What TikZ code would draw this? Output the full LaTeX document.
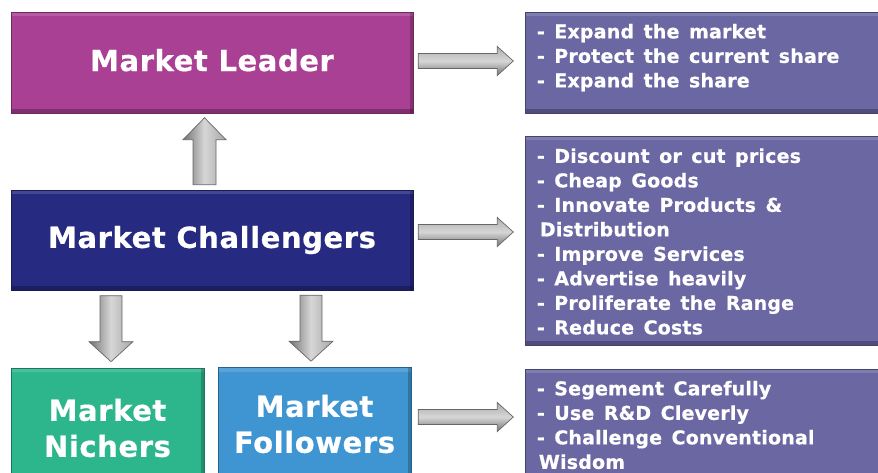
\documentclass[tikz,border=0pt]{standalone}
\usepackage{fontspec}
\setmainfont{DejaVu Sans}
\newfontfamily\titlefont[LetterSpace=2, BoldFeatures={FakeBold=0.6}]{DejaVu Sans}
\newfontfamily\listfont[LetterSpace=1, WordSpace=1.4, BoldFeatures={FakeBold=0.6}]{DejaVu Sans}
\usetikzlibrary{calc}
\definecolor{leadc}{RGB}{169,64,148}
\definecolor{challc}{RGB}{38,42,128}
\definecolor{nichc}{RGB}{45,182,140}
\definecolor{follc}{RGB}{62,149,210}
\definecolor{listc}{RGB}{106,103,163}
\tikzset{
  bevelbox/.style={rectangle, fill=#1, draw=#1!65!black, line width=0.6pt, inner sep=0pt,
    path picture={
      \fill[white,opacity=.14] (path picture bounding box.north west) rectangle ([yshift=-4pt]path picture bounding box.north east);
      \fill[black,opacity=.25] (path picture bounding box.south west) rectangle ([yshift=4pt]path picture bounding box.south east);
      \fill[black,opacity=.22] (path picture bounding box.south east) rectangle ([xshift=-3pt]path picture bounding box.north east);
    }},
  titlebox/.style={bevelbox=#1, text=white, align=center, font=\titlefont\bfseries\fontsize{29}{36}\selectfont},
  listtext/.style={text=white, align=left, inner sep=0pt, anchor=north west, font=\listfont\bfseries\fontsize{19}{24.5}\selectfont},
  hgarrow/.style={draw=black!60, line width=0.7pt, top color=black!32, bottom color=black!55, middle color=black!16},
  vgarrow/.style={draw=black!60, line width=0.7pt, left color=black!55, right color=black!35, middle color=black!16},
}
\begin{document}
\begin{tikzpicture}[x=1pt,y=-1pt]
\useasboundingbox (0,0) rectangle (878,473);
\clip (0,0) rectangle (878,473);

% left boxes
\node[titlebox=leadc, minimum width=402pt, minimum height=101pt] (leader) at (212,62.5) {\raisebox{5pt}{Market Leader}};
\node[titlebox=challc, minimum width=402pt, minimum height=100pt] (chall) at (212,240) {Market Challengers};
\node[titlebox=nichc, minimum width=193pt, minimum height=120pt] (nich) at (107.5,428) {Market\\Nichers};
\node[titlebox=follc, minimum width=193pt, minimum height=113pt] (foll) at (314.5,424) {Market\\Followers};

% right boxes
\node[bevelbox=listc, minimum width=360pt, minimum height=101pt] (r1) at (705,62.5) {};
\node[bevelbox=listc, minimum width=360pt, minimum height=209pt] (r2) at (705,240.5) {};
\node[bevelbox=listc, minimum width=360pt, minimum height=111pt] (r3) at (705,424.5) {};

\node[listtext] (t1) at ([xshift=12pt,yshift=-12pt]r1.north west)
  {- Expand the market\\- Protect the current share\\- Expand the share};
\node[listtext] (t2) at ([xshift=12pt,yshift=-12.5pt]r2.north west)
  {- Discount or cut prices\\- Cheap Goods\\- Innovate Products \&\\\hspace*{3pt}Distribution\\- Improve Services\\- Advertise heavily\\- Proliferate the Range\\- Reduce Costs};
\node[listtext] (t3) at ([xshift=12pt,yshift=-12pt]r3.north west)
  {- Segement Carefully\\- Use R\&D Cleverly\\- Challenge Conventional\\\hspace*{2pt}Wisdom};

% connectors (block arrows)
\coordinate (a1) at ([xshift=5pt,yshift=1.5pt]leader.east);
\coordinate (a2) at ([xshift=5pt,yshift=8pt]chall.east);
\coordinate (a3) at ([xshift=7pt,yshift=7pt]foll.east);
\foreach \s in {a1,a2,a3}{
  \draw[hgarrow] (\s) ++(0,-7.5) -- ++(79,0) -- ++(0,-7) -- ++(16,14.5) -- ++(-16,14.5) -- ++(0,-7) -- ++(-79,0) -- cycle;
}
\coordinate (u1) at ([xshift=-7.5pt,yshift=5pt]chall.north);
\draw[vgarrow] (u1) ++(-11.5,0) -- ++(0,-45) -- ++(-10,0) -- ++(21.5,-22) -- ++(21.5,22) -- ++(-10,0) -- ++(0,45) -- cycle;
\coordinate (d1) at ([xshift=3.5pt,yshift=72pt]nich.north);
\coordinate (d2) at ([xshift=-3.5pt,yshift=72pt]foll.north);
\foreach \s in {d1,d2}{
  \draw[vgarrow] (\s) ++(-11,0) -- ++(0,46) -- ++(-11,0) -- ++(22,20) -- ++(22,-20) -- ++(-11,0) -- ++(0,-46) -- cycle;
}
\end{tikzpicture}
\end{document}
